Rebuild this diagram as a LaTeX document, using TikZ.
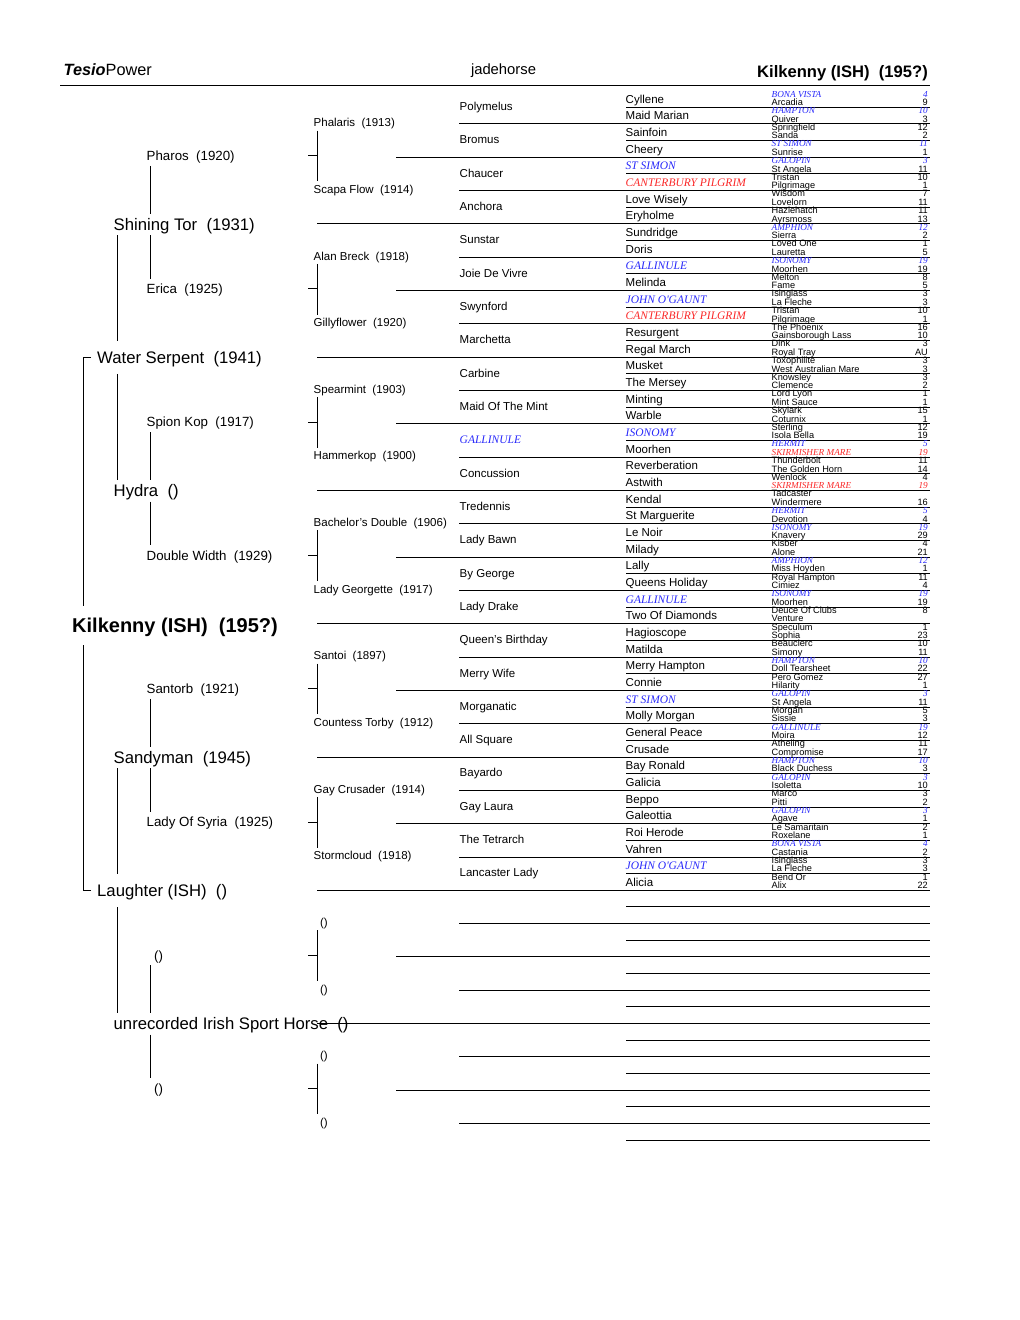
\documentclass[tikz,border=0pt]{standalone}
\usepackage{fontspec}
\setmainfont{Liberation Sans}
\newfontfamily\tnrfont{Liberation Serif}
\definecolor{hblue}{RGB}{40,40,250}
\definecolor{hred}{RGB}{250,40,40}
\newcommand\fmtN[1]{#1}
\newcommand\fmtB[1]{{\color{hblue}\tnrfont\itshape #1}}
\newcommand\fmtR[1]{{\color{hred}\tnrfont\itshape #1}}
\begin{document}
\begin{tikzpicture}[x=1pt,y=-1pt,
  lbl/.style={anchor=west, inner xsep=0pt, text depth=0pt},
  subj/.style={lbl, font=\fontsize{20}{24}\selectfont\bfseries, text height=14.4pt, inner ysep=11.8pt},
  gone/.style={lbl, font=\fontsize{16.7}{20}\selectfont, text height=12pt, inner ysep=10.5pt},
  gtwo/.style={lbl, font=\fontsize{16.7}{20}\selectfont, text height=12pt, inner ysep=4.5pt},
  gthree/.style={lbl, font=\fontsize{13.3}{16}\selectfont, text height=9.6pt, inner ysep=5.2pt},
  gfour/.style={lbl, font=\fontsize{11.5}{14}\selectfont, text height=8.3pt, inner ysep=3.6pt},
  gfive/.style={lbl, font=\fontsize{11.5}{14}\selectfont, text height=8.3pt, inner ysep=0pt},
  gsix/.style={anchor=base west, inner sep=0pt, font=\fontsize{11.5}{14}\selectfont},
  gsev/.style={anchor=base west, inner sep=0pt, font=\fontsize{9.2}{11}\selectfont},
  gnum/.style={anchor=base east, inner sep=0pt, font=\fontsize{9.2}{11}\selectfont},
  hdr/.style={inner sep=0pt},
  gridrule/.style={line width=1pt},
  treeline/.style={line width=1pt},
]
\useasboundingbox (0,0) rectangle (1020,1320);

% header
\node[hdr, anchor=base west, font=\fontsize{16.3}{20}\selectfont] (hdrL) at (63.5,75.8) {\textbf{\textit{Tesio}}Power};
\node[hdr, anchor=base, font=\fontsize{14.8}{18}\selectfont] (hdrM) at (503.5,74) {jadehorse};
\node[hdr, anchor=base east, font=\fontsize{16.6}{20}\selectfont\bfseries] (hdrR) at (928,77) {Kilkenny (ISH)~~(195?)};
\draw[gridrule] (60,85) -- (930,85);

% x positions of connector columns
\coordinate (x83) at (83,0);
\coordinate (x91) at (91,0);
\coordinate (x117) at (117,0);
\coordinate (x150) at (150,0);
\coordinate (x308) at (308,0);
\coordinate (x317) at (317,0);

% grid rules
\foreach \i in {0,...,62}{
  \pgfmathsetmacro\xs{ifthenelse(mod(\i+1,8)==0,317,ifthenelse(mod(\i+1,4)==0,396,ifthenelse(mod(\i+1,2)==0,459,626)))}
  \draw[gridrule] (\xs,{107.3+16.66*\i}) -- (930,{107.3+16.66*\i});
}

% subject and parents
\node[subj] (s) at (72,625.5) {Kilkenny (ISH)~~(195?)};
\node[gone] (p1) at (97,357.2) {Water Serpent~~(1941)};
\node[gone] (p2) at (97,890.5) {Laughter (ISH)~~()};

% generation 2
\foreach \t [count=\k] in {Shining Tor~~(1931), Hydra~~(), Sandyman~~(1945), unrecorded Irish Sport Horse~~()}
  \node[gtwo] (g2-\k) at (113.5,{224.3+266.56*(\k-1)}) {\t};

% generation 3
\foreach \t [count=\k] in {Pharos~~(1920), Erica~~(1925), Spion Kop~~(1917), Double Width~~(1929), Santorb~~(1921), Lady Of Syria~~(1925), ~~(), ~~()}
  \node[gthree] (g3-\k) at (146.5,{155.6+133.28*(\k-1)}) {\t};

% generation 4
\foreach \t [count=\k] in {Phalaris~~(1913), Scapa Flow~~(1914), Alan Breck~~(1918), Gillyflower~~(1920), Spearmint~~(1903), Hammerkop~~(1900), Bachelor's Double~~(1906), Lady Georgette~~(1917), Santoi~~(1897), Countess Torby~~(1912), Gay Crusader~~(1914), Stormcloud~~(1918), ~~(), ~~(), ~~(), ~~()}
  \node[gfour] (g4-\k) at (313.5,{122.6+66.64*(\k-1)}) {\t};

% generation 5
\foreach \c/\t [count=\k] in {N/Polymelus, N/Bromus, N/Chaucer, N/Anchora, N/Sunstar, N/Joie De Vivre, N/Swynford, N/Marchetta, N/Carbine, N/Maid Of The Mint, B/GALLINULE, N/Concussion, N/Tredennis, N/Lady Bawn, N/By George, N/Lady Drake, N/Queen's Birthday, N/Merry Wife, N/Morganatic, N/All Square, N/Bayardo, N/Gay Laura, N/The Tetrarch, N/Lancaster Lady}
  \node[gfive] (g5-\k) at (459.5,{106.4+33.32*(\k-1)}) {\csname fmt\c\endcsname{\t}};

% generation 6
\foreach \c/\t [count=\k from 0] in {N/Cyllene, N/Maid Marian, N/Sainfoin, N/Cheery, B/ST SIMON, R/CANTERBURY PILGRIM, N/Love Wisely, N/Eryholme, N/Sundridge, N/Doris, B/GALLINULE, N/Melinda, B/JOHN O'GAUNT, R/CANTERBURY PILGRIM, N/Resurgent, N/Regal March, N/Musket, N/The Mersey, N/Minting, N/Warble, B/ISONOMY, N/Moorhen, N/Reverberation, N/Astwith, N/Kendal, N/St Marguerite, N/Le Noir, N/Milady, N/Lally, N/Queens Holiday, B/GALLINULE, N/Two Of Diamonds, N/Hagioscope, N/Matilda, N/Merry Hampton, N/Connie, B/ST SIMON, N/Molly Morgan, N/General Peace, N/Crusade, N/Bay Ronald, N/Galicia, N/Beppo, N/Galeottia, N/Roi Herode, N/Vahren, B/JOHN O'GAUNT, N/Alicia}
  \node[gsix] (g6-\k) at (625.5,{103.3+16.66*\k}) {\csname fmt\c\endcsname{\t}};

% generation 7 (pairs with numbers)
\foreach \ca/\ta/\na/\cb/\tb/\nb [count=\k from 0] in {
B/BONA VISTA/4/N/Arcadia/9,
B/HAMPTON/10/N/Quiver/3,
N/Springfield/12/N/Sanda/2,
B/ST SIMON/11/N/Sunrise/1,
B/GALOPIN/3/N/St Angela/11,
N/Tristan/10/N/Pilgrimage/1,
N/Wisdom/7/N/Lovelorn/11,
N/Hazlehatch/11/N/Ayrsmoss/13,
B/AMPHION/12/N/Sierra/2,
N/Loved One/1/N/Lauretta/5,
B/ISONOMY/19/N/Moorhen/19,
N/Melton/8/N/Fame/5,
N/Isinglass/3/N/La Fleche/3,
N/Tristan/10/N/Pilgrimage/1,
N/The Phoenix/16/N/Gainsborough Lass/10,
N/Dink/3/N/Royal Tray/AU,
N/Toxophilite/3/N/West Australian Mare/3,
N/Knowsley/3/N/Clemence/2,
N/Lord Lyon/1/N/Mint Sauce/1,
N/Skylark/15/N/Coturnix/1,
N/Sterling/12/N/Isola Bella/19,
B/HERMIT/5/R/SKIRMISHER MARE/19,
N/Thunderbolt/11/N/The Golden Horn/14,
N/Wenlock/4/R/SKIRMISHER MARE/19,
N/Tadcaster/{}/N/Windermere/16,
B/HERMIT/5/N/Devotion/4,
B/ISONOMY/19/N/Knavery/29,
N/Kisber/4/N/Alone/21,
B/AMPHION/12/N/Miss Hoyden/1,
N/Royal Hampton/11/N/Cimiez/4,
B/ISONOMY/19/N/Moorhen/19,
N/Deuce Of Clubs/8/N/Venture/{},
N/Speculum/1/N/Sophia/23,
N/Beauclerc/10/N/Simony/11,
B/HAMPTON/10/N/Doll Tearsheet/22,
N/Pero Gomez/27/N/Hilarity/1,
B/GALOPIN/3/N/St Angela/11,
N/Morgan/5/N/Sissie/3,
B/GALLINULE/19/N/Moira/12,
N/Atheling/11/N/Compromise/17,
B/HAMPTON/10/N/Black Duchess/3,
B/GALOPIN/3/N/Isoletta/10,
N/Marco/3/N/Pitti/2,
B/GALOPIN/3/N/Agave/1,
N/Le Samaritain/2/N/Roxelane/1,
B/BONA VISTA/4/N/Castania/2,
N/Isinglass/3/N/La Fleche/3,
N/Bend Or/1/N/Alix/22}{
  \node[gsev] (g7a-\k) at (771.5,{97.0+16.66*\k}) {\csname fmt\ca\endcsname{\ta}};
  \node[gnum] (n7a-\k) at (928,{97.0+16.66*\k}) {\csname fmt\ca\endcsname{\na}};
  \node[gsev] (g7b-\k) at (771.5,{105.5+16.66*\k}) {\csname fmt\cb\endcsname{\tb}};
  \node[gnum] (n7b-\k) at (928,{105.5+16.66*\k}) {\csname fmt\cb\endcsname{\nb}};
}

% connectors: subject to parents
\draw[treeline] (p1.west -| x91) -- (p1.west -| x83) -- (s.north -| x83);
\draw[treeline] (p2.west -| x91) -- (p2.west -| x83) -- (s.south -| x83);

% parents to generation 2
\draw[treeline] (g2-1.south -| x117) -- (p1.north -| x117);
\draw[treeline] (p1.south -| x117) -- (g2-2.north -| x117);
\draw[treeline] (g2-3.south -| x117) -- (p2.north -| x117);
\draw[treeline] (p2.south -| x117) -- (g2-4.north -| x117);

% generation 2 to generation 3
\foreach \j in {1,...,4}{
  \pgfmathtruncatemacro\ja{2*\j-1}
  \pgfmathtruncatemacro\jb{2*\j}
  \draw[treeline] (g3-\ja.south -| x150) -- (g2-\j.north -| x150);
  \draw[treeline] (g2-\j.south -| x150) -- (g3-\jb.north -| x150);
}

% generation 3 to generation 4
\foreach \j in {1,...,8}{
  \pgfmathtruncatemacro\ja{2*\j-1}
  \pgfmathtruncatemacro\jb{2*\j}
  \draw[treeline] (g3-\j.west -| x308) -- (g3-\j.west -| x317);
  \draw[treeline] (g4-\ja.south -| x317) -- (g4-\jb.north -| x317);
}
\end{tikzpicture}
\end{document}
